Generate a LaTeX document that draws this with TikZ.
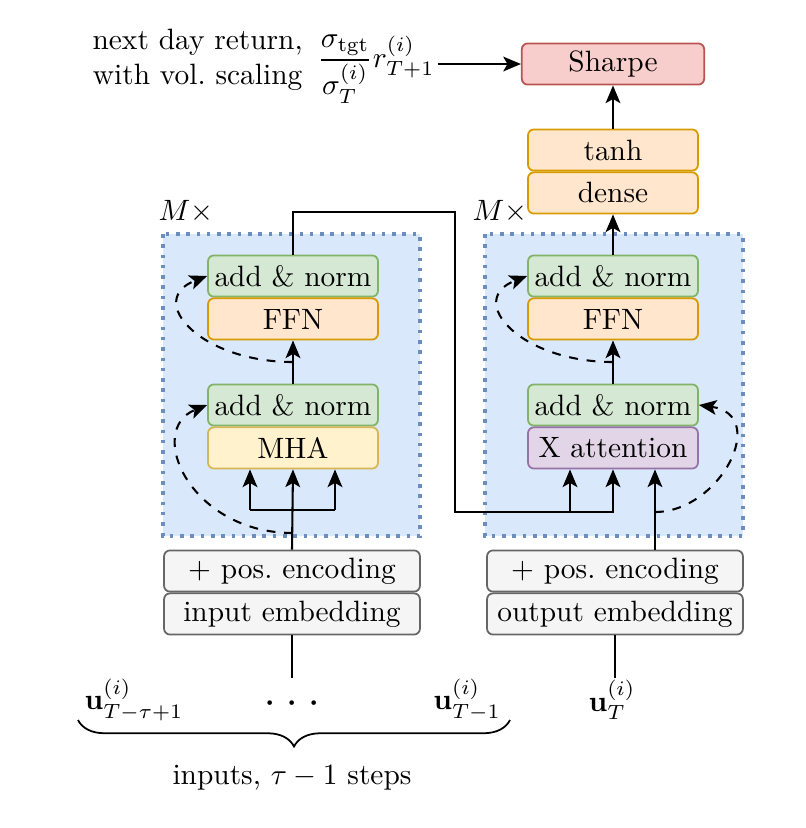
\documentclass[tikz,border=0pt]{standalone}
\usepackage{amsmath}
\usetikzlibrary{positioning,arrows.meta,decorations.pathreplacing}

\definecolor{layerfill}{HTML}{DAE8FC}
\definecolor{layerline}{HTML}{6C8EBF}
\definecolor{anfill}{HTML}{D5E8D4}
\definecolor{anline}{HTML}{82B366}
\definecolor{orfill}{HTML}{FFE6CC}
\definecolor{orline}{HTML}{D79B00}
\definecolor{mhafill}{HTML}{FFF2CC}
\definecolor{mhaline}{HTML}{D6B656}
\definecolor{xafill}{HTML}{E1D5E7}
\definecolor{xaline}{HTML}{9673A6}
\definecolor{embfill}{HTML}{F5F5F5}
\definecolor{embline}{HTML}{666666}
\definecolor{shfill}{HTML}{F8CECC}
\definecolor{shline}{HTML}{B85450}

\tikzset{
  blk/.style={draw, rounded corners=2pt, line width=0.6pt, minimum width=57.8pt,
    minimum height=14pt, inner sep=1pt},
  addnorm/.style={blk, fill=anfill, draw=anline},
  orblk/.style={blk, fill=orfill, draw=orline},
  mhablk/.style={blk, fill=mhafill, draw=mhaline},
  xablk/.style={blk, fill=xafill, draw=xaline},
  embblk/.style={blk, fill=embfill, draw=embline, minimum width=87pt},
  layerbox/.style={fill=layerfill, draw=layerline, line width=1.2pt,
    dash pattern=on 1.2pt off 2.3pt},
  arr/.style={-{Stealth[length=6pt,width=5pt,inset=1.4pt]}, line width=0.7pt},
  skip/.style={arr, dashed},
}

\begin{document}
\begin{tikzpicture}[x=0.34pt, y=-0.34pt]
  \useasboundingbox (0,0) rectangle (806,828);

  % Schichten (Hintergrund)
  \draw[layerbox] (163,234) rectangle (420,536);
  \draw[layerbox] (485,234) rectangle (743,536);
  \node (encM) at (186,212) {$M\times$};
  \node (decM) at (500,212) {$M\times$};

  % Encoder
  \node[addnorm] (encAN1) at (293,276) {add \& norm};
  \node[orblk, below=0pt of encAN1] (encFFN) {FFN};
  \node[addnorm] (encAN2) at (293,405) {add \& norm};
  \node[mhablk, below=0pt of encAN2] (encMHA) {MHA};
  \node[embblk] (encPos) at (292,571) {+ pos.\ encoding};
  \node[embblk, below=0pt of encPos] (encEmb) {input embedding};

  % Decoder
  \node[addnorm] (decAN1) at (613,276) {add \& norm};
  \node[orblk, below=0pt of decAN1] (decFFN) {FFN};
  \node[addnorm] (decAN2) at (613,405) {add \& norm};
  \node[xablk, below=0pt of decAN2] (decXA) {X attention};
  \node[embblk] (decPos) at (615,571) {+ pos.\ encoding};
  \node[embblk, below=0pt of decPos] (decEmb) {output embedding};

  % Ausgang
  \node[orblk] (tanh) at (613,150) {tanh};
  \node[orblk, below=0pt of tanh] (dense) {dense};
  \node[blk, fill=shfill, draw=shline, minimum width=62pt] (sharpe) at (613,64) {Sharpe};
  \node[anchor=east, inner sep=1pt] (ret) at (438,64)
    {\begin{tabular}{@{}c@{}}next day return,\\ with vol.\ scaling\end{tabular}\,
     $\dfrac{\sigma_{\mathrm{tgt}}}{\sigma^{(i)}_T}r^{(i)}_{T+1}$};

  % Eingaben
  \node (uFirst) at (134,700) {$\mathbf{u}^{(i)}_{T-\tau+1}$};
  \node (udots) at (292,704) {${\boldsymbol{\cdot}}\hspace{4.2pt}{\boldsymbol{\cdot}}\hspace{4.2pt}{\boldsymbol{\cdot}}$};
  \node (uLast) at (467,700) {$\mathbf{u}^{(i)}_{T-1}$};
  \node (uT) at (612,700) {$\mathbf{u}^{(i)}_{T}$};
  \node (inLbl) at (292,778) {inputs, $\tau-1$ steps};
  \draw[decorate, decoration={brace, mirror, amplitude=9pt}, line width=0.6pt]
    (78,720) -- (510,720);

  % Hilfspunkte
  \coordinate (encIn) at (292,678);
  \coordinate (decIn) at (615,678);
  \coordinate (kL) at (250,510);
  \coordinate (kR) at (335,510);
  \coordinate (crossTop) at (455,212);
  \coordinate (crossBot) at (455,512);
  \coordinate (kA) at (570,512);
  \coordinate (kBx) at (655,0);
  \coordinate (encS1) at (293,533);
  \coordinate (encS2) at (293,362);
  \coordinate (decS1) at (655,512);
  \coordinate (decS2) at (613,362);

  % Verbindungen Encoder
  \draw[line width=0.7pt] (encEmb.south) -- (encIn);
  \draw[arr] (encPos.north) -- (encMHA.south);
  \draw[line width=0.7pt] (kL) -- (kR);
  \draw[arr] (kL) -- (kL |- encMHA.south);
  \draw[arr] (kR) -- (kR |- encMHA.south);
  \draw[arr] (encAN2.north) -- (encFFN.south);
  \draw[skip] (encS1) .. controls (190,533) and (145,430) .. (encAN2.west);
  \draw[skip] (encS2) .. controls (200,362) and (145,300) .. (encAN1.west);

  % Encoder -> Decoder
  \draw[arr] (encAN1.north) |- (crossTop) -- (crossBot) -| (decXA.south);
  \draw[arr] (kA) -- (kA |- decXA.south);

  % Verbindungen Decoder
  \draw[line width=0.7pt] (decEmb.south) -- (decIn);
  \draw[arr] (decPos.north -| kBx) -- (decXA.south -| kBx);
  \draw[arr] (decAN2.north) -- (decFFN.south);
  \draw[skip] (decS1) .. controls (720,512) and (770,415) .. (decAN2.east);
  \draw[skip] (decS2) .. controls (520,362) and (465,300) .. (decAN1.west);
  \draw[arr] (decAN1.north) -- (dense.south);
  \draw[arr] (tanh.north) -- (sharpe.south);
  \draw[arr] (ret.east) -- (sharpe.west);
\end{tikzpicture}
\end{document}
